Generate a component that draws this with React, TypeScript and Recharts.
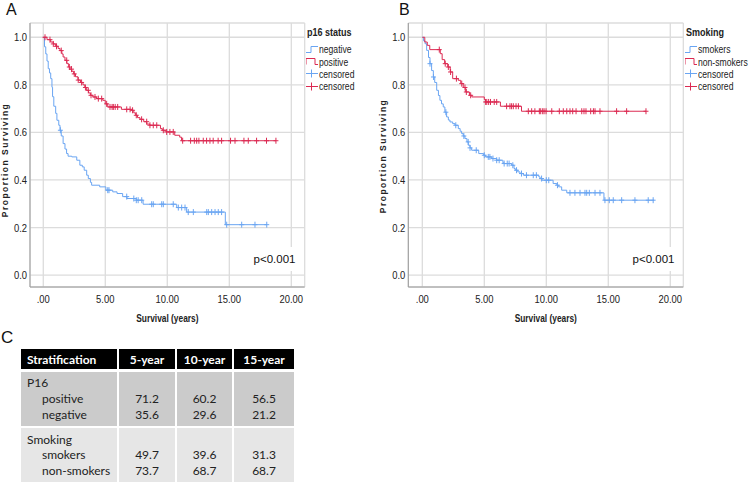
import React from 'react';
import { ComposedChart, Line, Scatter, XAxis, YAxis, CartesianGrid } from 'recharts';

// ---------- data ----------
const xTicks = [0, 5, 10, 15, 20];
const yTicks = [0, 0.2, 0.4, 0.6, 0.8, 1.0];

// Panel A: p16 status
const p16PosTimes = [0, 0.3, 0.6, 0.8, 1.0, 1.2, 1.35, 1.5, 1.6, 1.75, 1.9, 2.05, 2.15, 2.3, 2.45, 2.6, 2.8, 3.0, 3.2, 3.35, 3.5, 3.65, 3.8, 4.0, 4.3, 4.8, 5.0, 5.2, 6.3, 7.1, 7.3, 7.45, 7.6, 7.8, 8.1, 8.35, 8.6, 9.45, 9.6, 9.9, 10.6, 11.0, 11.15, 18.76];
const p16PosSurv = [1.0, 0.99, 0.98, 0.972, 0.962, 0.953, 0.944, 0.93, 0.917, 0.903, 0.889, 0.875, 0.866, 0.857, 0.846, 0.834, 0.82, 0.81, 0.8, 0.789, 0.777, 0.766, 0.756, 0.749, 0.742, 0.735, 0.72, 0.707, 0.697, 0.693, 0.682, 0.672, 0.662, 0.655, 0.645, 0.635, 0.63, 0.616, 0.609, 0.602, 0.588, 0.58, 0.565, 0.565];
const p16PosCensored = [0.14, 0.54, 0.81, 1.07, 1.45, 1.89, 2.1, 2.28, 2.5, 2.82, 3.09, 3.4, 3.63, 3.85, 4.17, 4.44, 4.71, 5.11, 5.38, 5.55, 5.65, 5.8, 6.0, 6.73, 7.0, 7.2, 7.5, 7.93, 8.34, 8.6, 8.87, 9.15, 9.68, 9.95, 10.21, 10.48, 11.24, 11.88, 12.18, 12.37, 12.55, 12.9, 13.17, 13.44, 13.7, 14.1, 14.38, 15.1, 15.46, 16.18, 16.53, 17.2, 18.0, 18.76];

const p16NegTimes = [0, 0.1, 0.2, 0.3, 0.4, 0.5, 0.6, 0.7, 0.75, 0.85, 1.0, 1.1, 1.25, 1.35, 1.45, 1.6, 1.75, 1.88, 2.0, 2.3, 2.7, 2.95, 3.15, 3.3, 3.5, 3.63, 3.8, 3.9, 4.55, 5.05, 5.6, 5.95, 6.4, 6.75, 7.5, 8.05, 10.76, 11.56, 14.68, 18.02];
const p16NegSurv = [1.0, 0.96, 0.93, 0.9, 0.868, 0.85, 0.826, 0.79, 0.75, 0.71, 0.68, 0.651, 0.63, 0.609, 0.585, 0.553, 0.53, 0.511, 0.5, 0.497, 0.483, 0.462, 0.455, 0.441, 0.42, 0.406, 0.39, 0.378, 0.371, 0.357, 0.35, 0.343, 0.33, 0.322, 0.315, 0.298, 0.284, 0.265, 0.212, 0.212];
const p16NegCensored = [1.38, 5.2, 5.3, 6.73, 7.3, 7.5, 7.65, 7.94, 8.74, 8.87, 9.55, 9.68, 10.48, 10.89, 11.16, 11.43, 11.69, 12.1, 13.18, 13.31, 13.58, 13.85, 14.11, 14.38, 14.79, 16.0, 17.07, 18.02];

// Panel B: smoking
const smokersTimes = [0, 0.1, 0.22, 0.35, 0.5, 0.62, 0.75, 0.89, 1.0, 1.16, 1.3, 1.42, 1.55, 1.69, 1.82, 1.96, 2.1, 2.23, 2.45, 2.63, 2.9, 3.05, 3.17, 3.3, 3.44, 3.6, 3.71, 3.85, 3.98, 4.55, 4.95, 5.1, 5.6, 6.0, 6.5, 6.6, 7.2, 7.4, 7.5, 7.7, 7.88, 8.15, 9.4, 9.5, 9.65, 10.55, 10.85, 11.0, 11.24, 11.65, 14.65, 18.7];
const smokersSurv = [1.0, 0.985, 0.973, 0.945, 0.915, 0.889, 0.86, 0.833, 0.81, 0.777, 0.755, 0.735, 0.72, 0.707, 0.685, 0.665, 0.652, 0.644, 0.637, 0.63, 0.616, 0.605, 0.595, 0.585, 0.574, 0.56, 0.546, 0.535, 0.525, 0.511, 0.504, 0.497, 0.49, 0.483, 0.472, 0.469, 0.462, 0.448, 0.441, 0.434, 0.427, 0.42, 0.413, 0.406, 0.399, 0.385, 0.378, 0.371, 0.357, 0.346, 0.315, 0.315];
const smokersCensored = [0.62, 0.9, 1.9, 2.7, 3.35, 3.7, 3.85, 4.35, 5.0, 5.32, 5.45, 5.7, 6.0, 6.2, 6.6, 6.85, 7.0, 7.3, 7.6, 8.0, 8.4, 8.95, 9.2, 9.62, 10.0, 10.2, 10.9, 11.91, 12.31, 12.72, 13.12, 13.26, 13.47, 13.93, 14.33, 14.73, 15.08, 15.4, 16.08, 17.15, 18.22, 18.62];

const nonSmokersTimes = [0, 0.2, 0.4, 0.6, 1.45, 1.6, 1.8, 2.05, 2.25, 2.45, 2.9, 3.1, 3.3, 3.5, 3.8, 4.0, 5.0, 5.1, 6.3, 8.0, 18.04];
const nonSmokersSurv = [1.0, 0.98, 0.966, 0.948, 0.931, 0.906, 0.889, 0.875, 0.854, 0.826, 0.819, 0.805, 0.789, 0.77, 0.756, 0.749, 0.738, 0.728, 0.71, 0.689, 0.689];
const nonSmokersCensored = [1.37, 1.85, 2.1, 2.28, 2.75, 3.18, 3.44, 3.55, 3.9, 5.11, 5.2, 5.35, 5.5, 5.8, 6.0, 6.8, 7.07, 7.2, 7.34, 7.56, 7.75, 8.55, 8.82, 9.08, 9.44, 9.55, 9.71, 9.82, 9.98, 10.44, 11.05, 11.37, 11.65, 11.91, 12.13, 12.4, 12.86, 13.04, 13.2, 13.58, 13.8, 13.93, 14.33, 15.67, 16.48, 18.04];

// Panel C: table
const tableHeaders = ['Stratification', '5-year', '10-year', '15-year'];
const p16Labels = ['positive', 'negative'];
const p16Year5 = ['71.2', '35.6'];
const p16Year10 = ['60.2', '29.6'];
const p16Year15 = ['56.5', '21.2'];
const smokingLabels = ['smokers', 'non-smokers'];
const smokingYear5 = ['49.7', '73.7'];
const smokingYear10 = ['39.6', '68.7'];
const smokingYear15 = ['31.3', '68.7'];

// ---------- helpers ----------
const RED = '#dc2a52';
const BLUE = '#6aa5f2';
const GRID = '#dcdcdc';
const AXIS = '#9a9a9a';
const SANS = '"Liberation Sans", Arial, sans-serif';
const HUMAN = 'Lato, "Liberation Sans", sans-serif';
const SQUEEZE = 0.82;

const stepData = (times: number[], surv: number[]) => times.map((t, i) => ({ t, s: surv[i] }));
const censorData = (times: number[], surv: number[], cens: number[]) =>
  cens.map((c) => {
    let s = surv[0];
    for (let i = 0; i < times.length; i++) if (times[i] <= c + 1e-9) s = surv[i];
    return { t: c, s };
  });

const crossShape = (color: string) => (props: any) => {
  const { cx, cy } = props;
  if (cx == null || cy == null) return <g />;
  return (
    <path
      d={`M${cx - 2.5},${cy}H${cx + 2.5}M${cx},${cy - 3}V${cy + 3}`}
      stroke={color}
      strokeWidth={1}
      fill="none"
    />
  );
};

const fmtX = (v: number) => (v === 0 ? '.00' : v.toFixed(2));
const fmtY = (v: number) => v.toFixed(1);

const XTick = (props: any) => {
  const { x, y, payload } = props;
  return (
    <text
      transform={`translate(${x},${y}) scale(${SQUEEZE},1)`}
      textAnchor="middle"
      dy="0.71em"
      fontSize={11.5}
      fontFamily={SANS}
      fill="#222"
    >
      {fmtX(payload.value)}
    </text>
  );
};

const YTick = (props: any) => {
  const { x, y, payload } = props;
  return (
    <text
      transform={`translate(${x},${y}) scale(${SQUEEZE},1)`}
      textAnchor="end"
      dy="0.355em"
      fontSize={11.5}
      fontFamily={SANS}
      fill="#222"
    >
      {fmtY(payload.value)}
    </text>
  );
};

type Series = { times: number[]; surv: number[]; cens: number[]; color: string };

function KMPanel(props: {
  left: number;
  width: number;
  yAxisWidth: number;
  rightMargin: number;
  xDomain: [number, number];
  yLabelX: number;
  yLabelY: number;
  series: Series[];
}) {
  const { left, width, yAxisWidth, rightMargin, xDomain, yLabelX, yLabelY, series } = props;
  const height = 330;
  const plotCenter = yAxisWidth + (width - yAxisWidth - rightMargin) / 2;
  return (
    <div style={{ position: 'absolute', left, top: 0, width, height }}>
      <ComposedChart width={width} height={height} margin={{ top: 23, right: rightMargin, bottom: 0, left: 0 }}>
        <CartesianGrid stroke={GRID} strokeWidth={1.3} />
        <XAxis
          type="number"
          dataKey="t"
          domain={xDomain}
          allowDataOverflow
          ticks={xTicks}
          interval={0}
          height={43}
          axisLine={{ stroke: AXIS, strokeWidth: 1 }}
          tickLine={false}
          tick={XTick}
          label={{
            content: () => (
              <text
                transform={`translate(${plotCenter},322) scale(${SQUEEZE},1)`}
                textAnchor="middle"
                fontSize={10.2}
                fontWeight="bold"
                fontFamily={SANS}
                fill="#222"
              >
                Survival (years)
              </text>
            ),
          }}
        />
        <YAxis
          type="number"
          dataKey="s"
          domain={[-0.05, 1.06]}
          allowDataOverflow
          ticks={yTicks}
          interval={0}
          width={yAxisWidth}
          axisLine={{ stroke: AXIS, strokeWidth: 1 }}
          tickLine={false}
          tickSize={0}
          tickMargin={3}
          tick={YTick}
          label={{
            content: () => (
              <text
                x={yLabelX}
                y={yLabelY}
                transform={`rotate(-90, ${yLabelX}, ${yLabelY})`}
                textAnchor="middle"
                fontSize={8.5}
                fontWeight="bold"
                letterSpacing={1.5}
                fontFamily={SANS}
                fill="#222"
              >
                Proportion Surviving
              </text>
            ),
          }}
        />
        {series.map((s, i) => (
          <Line
            key={'l' + i}
            data={stepData(s.times, s.surv)}
            dataKey="s"
            type="stepAfter"
            stroke={s.color}
            strokeWidth={1}
            dot={false}
            activeDot={false}
            isAnimationActive={false}
          />
        ))}
        {series.map((s, i) => (
          <Scatter
            key={'c' + i}
            data={censorData(s.times, s.surv, s.cens)}
            dataKey="s"
            fill={s.color}
            shape={crossShape(s.color)}
            isAnimationActive={false}
          />
        ))}
      </ComposedChart>
    </div>
  );
}

function LegendBox(props: { left: number; top: number; title: string; labels: string[] }) {
  const { left, top, title, labels } = props;
  const icons = [
    <path d="M0,8.5 H5 V2.5 H12" stroke={BLUE} fill="none" strokeWidth={1} />,
    <path d="M0,8.5 V2.5 H9 V8.5 H12" stroke={RED} fill="none" strokeWidth={1} />,
    <path d="M0,5.5 H12 M5.5,1.5 V9.5" stroke={BLUE} fill="none" strokeWidth={1} />,
    <path d="M0,5.5 H12 M5.5,1.5 V9.5" stroke={RED} fill="none" strokeWidth={1} />,
  ];
  const squeeze: React.CSSProperties = {
    display: 'inline-block',
    transform: `scaleX(${SQUEEZE})`,
    transformOrigin: 'left center',
    whiteSpace: 'nowrap',
  };
  return (
    <div style={{ position: 'absolute', left, top, fontFamily: SANS, color: '#222' }}>
      <div style={{ fontSize: 11, fontWeight: 'bold', height: 17, lineHeight: '13px', width: 60 }}>
        <span style={squeeze}>{title}</span>
      </div>
      {labels.map((l, i) => (
        <div key={i} style={{ display: 'flex', alignItems: 'center', height: 12.4, fontSize: 10.5, width: 60 }}>
          <svg width={13} height={11} style={{ display: 'block', marginLeft: -1, flex: 'none' }}>
            {icons[i]}
          </svg>
          <span style={squeeze}>{l}</span>
        </div>
      ))}
    </div>
  );
}

function PValue(props: { left: number }) {
  return (
    <div
      style={{
        position: 'absolute',
        left: props.left,
        top: 247,
        width: 47,
        height: 24,
        background: '#fff',
        fontFamily: SANS,
        fontSize: 11.5,
        color: '#111',
        lineHeight: '24px',
        textAlign: 'center',
      }}
    >
      p&lt;0.001
    </div>
  );
}

function DataTable() {
  const cols = '96px 56px 55px 60px';
  const cellBase: React.CSSProperties = { fontFamily: HUMAN, fontSize: 12, color: '#222', lineHeight: '15.8px' };
  const head = (t: string, i: number) => (
    <div
      key={'h' + i}
      style={{
        background: '#000',
        color: '#fff',
        fontFamily: HUMAN,
        fontWeight: 'bold',
        fontSize: 12,
        display: 'flex',
        alignItems: 'center',
        justifyContent: i === 0 ? 'flex-start' : 'center',
        paddingLeft: i === 0 ? 6 : 0,
      }}
    >
      {t}
    </div>
  );
  const group = (bg: string, title: string, labels: string[], c5: string[], c10: string[], c15: string[], k: string) => [
    <div key={k + 'a'} style={{ ...cellBase, background: bg, paddingTop: 3.5, paddingLeft: 6 }}>
      <div>{title}</div>
      {labels.map((l, i) => (
        <div key={i} style={{ paddingLeft: 15 }}>{l}</div>
      ))}
    </div>,
    ...[c5, c10, c15].map((col, j) => (
      <div key={k + j} style={{ ...cellBase, background: bg, paddingTop: 3.5, textAlign: 'center' }}>
        <div>&nbsp;</div>
        {col.map((v, i) => (
          <div key={i}>{v}</div>
        ))}
      </div>
    )),
  ];
  return (
    <div
      style={{
        position: 'absolute',
        left: 21,
        top: 349,
        display: 'grid',
        gridTemplateColumns: cols,
        gridTemplateRows: '20px 54px 54px',
        columnGap: 2,
        rowGap: 2.5,
      }}
    >
      {tableHeaders.map(head)}
      {group('#cbcbcb', 'P16', p16Labels, p16Year5, p16Year10, p16Year15, 'p')}
      {group('#e6e6e6', 'Smoking', smokingLabels, smokingYear5, smokingYear10, smokingYear15, 's')}
    </div>
  );
}

const panelLetter = (t: string, left: number, top: number, size: number) => (
  <div style={{ position: 'absolute', left, top, fontFamily: SANS, fontSize: size, color: '#111', lineHeight: 'normal' }}>{t}</div>
);

export default function App() {
  return (
    <div style={{ position: 'absolute', left: 0, top: 0, width: 750, height: 483, background: '#fff', overflow: 'hidden' }}>
      <KMPanel
        left={0}
        width={370}
        yAxisWidth={30}
        rightMargin={65.3}
        xDomain={[-1.07, 21.08]}
        yLabelX={7.7}
        yLabelY={160}
        series={[
          { times: p16NegTimes, surv: p16NegSurv, cens: p16NegCensored, color: BLUE },
          { times: p16PosTimes, surv: p16PosSurv, cens: p16PosCensored, color: RED },
        ]}
      />
      <KMPanel
        left={370}
        width={380}
        yAxisWidth={38.3}
        rightMargin={66.7}
        xDomain={[-1.13, 21.05]}
        yLabelX={15.5}
        yLabelY={156}
        series={[
          { times: smokersTimes, surv: smokersSurv, cens: smokersCensored, color: BLUE },
          { times: nonSmokersTimes, surv: nonSmokersSurv, cens: nonSmokersCensored, color: RED },
        ]}
      />
      <LegendBox left={307} top={26} title="p16 status" labels={['negative', 'positive', 'censored', 'censored']} />
      <LegendBox left={686} top={26} title="Smoking" labels={['smokers', 'non-smokers', 'censored', 'censored']} />
      <PValue left={251} />
      <PValue left={630} />
      {panelLetter('A', 6, 0.5, 16)}
      {panelLetter('B', 399, 0.5, 16)}
      {panelLetter('C', 1, 328, 17)}
      <DataTable />
    </div>
  );
}
